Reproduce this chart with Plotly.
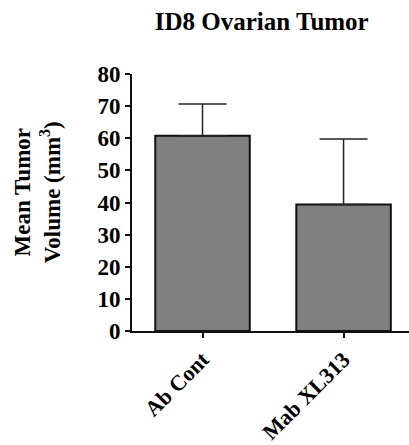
import plotly.graph_objects as go

# Group means and upper error (SD) for tumour volume
groups = ["Ab Cont", "Mab XL313"]
mean_volume = [60.8, 39.4]
error_plus = [9.9, 20.4]
y_ticks = [0, 10, 20, 30, 40, 50, 60, 70, 80]

serif = "Liberation Serif"

fig = go.Figure(
    go.Bar(
        x=groups,
        y=mean_volume,
        width=0.67,
        marker=dict(color="#808080", line=dict(color="#111111", width=2)),
        error_y=dict(type="data", symmetric=False, array=error_plus,
                     arrayminus=[0, 0], color="#222222", thickness=1.5, width=24),
    )
)

fig.update_layout(
    width=409,
    height=445,
    margin=dict(l=132, r=0, t=74, b=109),
    paper_bgcolor="white",
    plot_bgcolor="white",
    showlegend=False,
    title=dict(
        text="<b>ID8 Ovarian Tumor</b>",
        font=dict(family=serif, size=25, color="black"),
        x=0.64, xanchor="center", y=0.953, yanchor="middle",
    ),
    font=dict(family=serif, color="black"),
)

# Two-line y-axis title, placed as a rotated annotation left of the tick labels
fig.add_annotation(
    text="<b>Mean Tumor<br>Volume (mm<sup>3</sup>)</b>",
    xref="paper", yref="paper",
    x=-0.343, y=0.54, xanchor="center", yanchor="middle",
    textangle=-90, align="center", showarrow=False,
    font=dict(family=serif, size=23, color="black"),
)

fig.update_xaxes(
    range=[-0.5, 1.464],
    showline=True, linecolor="#111111", linewidth=2,
    ticks="outside", ticklen=5, tickwidth=1.5, tickcolor="#111111",
    tickangle=-45,
    tickfont=dict(family=serif, size=22, color="black", weight="bold"),
    showgrid=False, zeroline=False,
)

fig.update_yaxes(
    range=[0, 80],
    tickvals=y_ticks,
    showline=True, linecolor="#111111", linewidth=2,
    ticks="outside", ticklen=5, tickwidth=1.5, tickcolor="#111111",
    tickfont=dict(family=serif, size=23, color="black", weight="bold"),
    showgrid=False, zeroline=False,
)

fig.write_html("out.html")
